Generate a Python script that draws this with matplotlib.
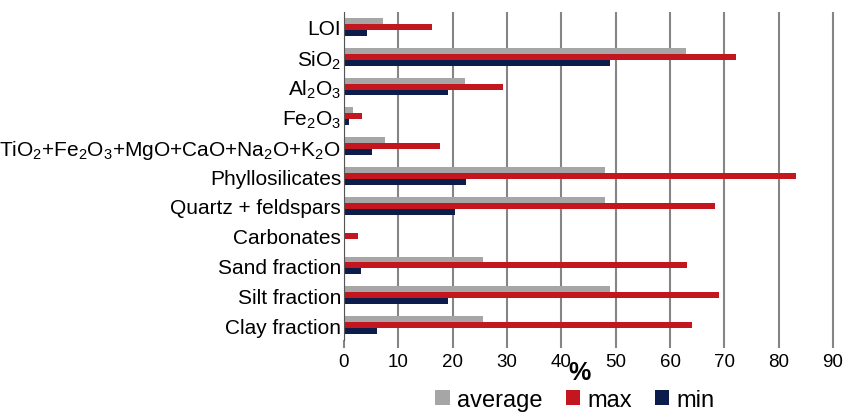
import numpy as np
import matplotlib.pyplot as plt

plt.rcParams['font.family'] = ['Liberation Sans', 'DejaVu Sans']
plt.rcParams['mathtext.default'] = 'regular'

categories = ['LOI', 'SiO$_2$', 'Al$_2$O$_3$', 'Fe$_2$O$_3$',
              'TiO$_2$+Fe$_2$O$_3$+MgO+CaO+Na$_2$O+K$_2$O',
              'Phyllosilicates', 'Quartz + feldspars', 'Carbonates',
              'Sand fraction', 'Silt fraction', 'Clay fraction']
average = [7.1, 62.9, 22.3, 1.7, 7.6, 48.0, 48.0, 0.0, 25.6, 49.0, 25.5]
maximum = [16.2, 72.1, 29.2, 3.4, 17.6, 83.2, 68.3, 2.5, 63.1, 69.1, 64.1]
minimum = [4.2, 49.0, 19.1, 1.0, 5.2, 22.4, 20.5, 0.0, 3.1, 19.1, 6.0]
xticks = [0, 10, 20, 30, 40, 50, 60, 70, 80, 90]

fig = plt.figure(figsize=(8.45, 4.14), dpi=100)
ax = fig.add_axes([0.4071, 0.1763, 0.5810, 0.7923])

y = np.arange(len(categories))
h = 0.2
ax.barh(y - h, average, height=h, color='#a6a6a6', label='average', zorder=3)
ax.barh(y, maximum, height=h, color='#c3161f', label='max', zorder=3)
ax.barh(y + h, minimum, height=h, color='#0c1d4b', label='min', zorder=3)

ax.set_yticks(y)
ax.set_yticklabels(categories, fontsize=15)
ax.set_ylim(len(categories) - 0.5, -0.5)
ax.set_xlim(0, 90.35)
ax.set_xticks(xticks)
ax.set_xticklabels([str(t) for t in xticks], fontsize=13.5)
ax.tick_params(axis='y', length=0, pad=2)
ax.tick_params(axis='x', length=6, width=1.5, color='#858585', pad=3)
ax.grid(axis='x', color='#858585', linewidth=1.5, zorder=0)
for s in ['top', 'right', 'bottom']:
    ax.spines[s].set_visible(False)
ax.spines['left'].set_color('#555555')
ax.spines['left'].set_zorder(4)

fig.text(580 / 845, 1 - 373 / 414, '%', fontsize=18, fontweight='bold',
         ha='center', va='center')

handles, labels = ax.get_legend_handles_labels()
fig.legend(handles, labels, loc='center', bbox_to_anchor=(575 / 845, 1 - 401 / 414),
           ncol=3, frameon=False, fontsize=17, handlelength=0.6, handleheight=0.6,
           handletextpad=0.3, columnspacing=1.0, borderpad=0)

fig.savefig('out.png', dpi=100)
